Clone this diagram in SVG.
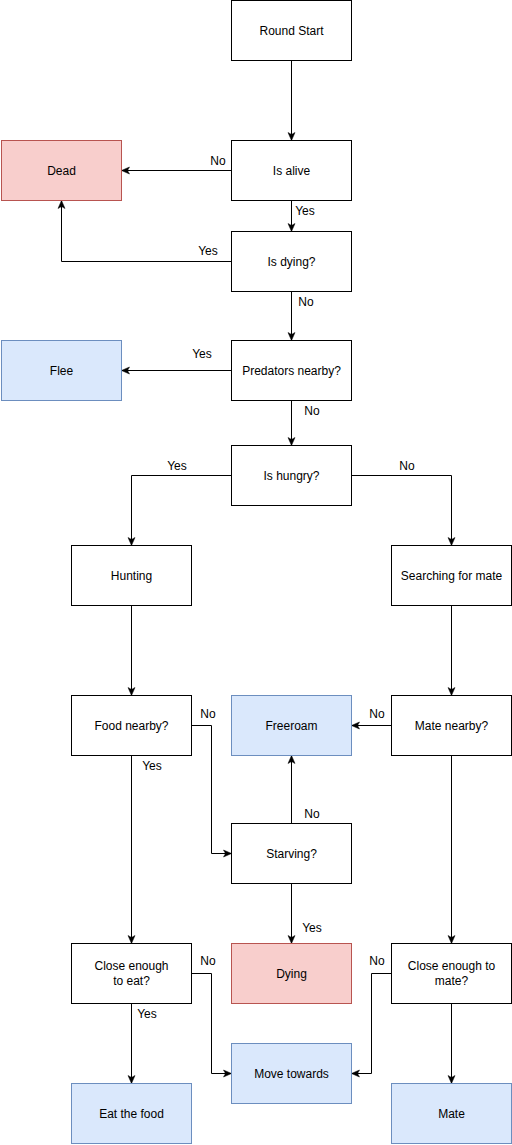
<svg xmlns="http://www.w3.org/2000/svg" width="512" height="1145" viewBox="0 0 512 1145">
<defs>
<style>
.n rect{fill:#ffffff;stroke:#000000;stroke-width:1}
.red rect{fill:#f8cecc;stroke:#b85450}
.blue rect{fill:#dae8fc;stroke:#6c8ebf}
text{font-family:"Liberation Sans",Arial,Helvetica,sans-serif;font-size:12px;fill:#000000}
.n text{text-anchor:middle}
.e path{fill:none;stroke:#000000;stroke-width:1;marker-end:url(#arr)}
.lbl text{text-anchor:middle}
</style>
<marker id="arr" markerUnits="userSpaceOnUse" markerWidth="10" markerHeight="10" refX="8" refY="4" orient="auto" viewBox="0 0 10 8" overflow="visible">
<path d="M0,0.5 L8,4 L0,7.5 L2,4 Z" fill="#000000" stroke="#000000" stroke-width="0.5"/>
</marker>
</defs>
<rect x="0" y="0" width="512" height="1145" fill="#ffffff"/>
<g id="connectors" class="e">
<path d="M291.5,60.5 V140.5"/>
<path d="M231.5,170.5 H121.5"/>
<path d="M291.5,200.5 V231.5"/>
<path d="M231.5,261.5 H61.5 V200.5"/>
<path d="M291.5,291.5 V340.5"/>
<path d="M231.5,370.5 H121.5"/>
<path d="M291.5,400.5 V445.5"/>
<path d="M231.5,475.5 H131.5 V545.5"/>
<path d="M351.5,475.5 H451.5 V545.5"/>
<path d="M131.5,605.5 V695.5"/>
<path d="M451.5,605.5 V695.5"/>
<path d="M191.5,725.5 H211.5 V853.5 H231.5"/>
<path d="M131.5,755.5 V943.5"/>
<path d="M391.5,725.5 H351.5"/>
<path d="M451.5,755.5 V943.5"/>
<path d="M291.5,823.5 V755.5"/>
<path d="M291.5,883.5 V943.5"/>
<path d="M191.5,973.5 H211.5 V1073.5 H231.5"/>
<path d="M131.5,1003.5 V1083.5"/>
<path d="M391.5,973.5 H371.5 V1073.5 H351.5"/>
<path d="M451.5,1003.5 V1083.5"/>
</g>
<g id="edge-labels" class="lbl">
<text x="218" y="165">No</text>
<text x="305" y="215">Yes</text>
<text x="208" y="255">Yes</text>
<text x="306" y="306">No</text>
<text x="202" y="358">Yes</text>
<text x="312" y="415">No</text>
<text x="177" y="470">Yes</text>
<text x="407" y="470">No</text>
<text x="208" y="718">No</text>
<text x="152" y="770">Yes</text>
<text x="377" y="718">No</text>
<text x="312" y="818">No</text>
<text x="312" y="932">Yes</text>
<text x="208" y="965">No</text>
<text x="147" y="1018">Yes</text>
<text x="377" y="965">No</text>
</g>
<g id="round-start" class="n"><rect x="231.5" y="0.5" width="120" height="60"/><text x="291.5" y="35">Round Start</text></g>
<g id="is-alive" class="n"><rect x="231.5" y="140.5" width="120" height="60"/><text x="291.5" y="175">Is alive</text></g>
<g id="dead" class="n red"><rect x="1.5" y="140.5" width="120" height="60"/><text x="61.5" y="175">Dead</text></g>
<g id="is-dying" class="n"><rect x="231.5" y="231.5" width="120" height="60"/><text x="291.5" y="266">Is dying?</text></g>
<g id="flee" class="n blue"><rect x="1.5" y="340.5" width="120" height="60"/><text x="61.5" y="375">Flee</text></g>
<g id="predators-nearby" class="n"><rect x="231.5" y="340.5" width="120" height="60"/><text x="291.5" y="375">Predators nearby?</text></g>
<g id="is-hungry" class="n"><rect x="231.5" y="445.5" width="120" height="60"/><text x="291.5" y="480">Is hungry?</text></g>
<g id="hunting" class="n"><rect x="71.5" y="545.5" width="120" height="60"/><text x="131.5" y="580">Hunting</text></g>
<g id="searching-for-mate" class="n"><rect x="391.5" y="545.5" width="120" height="60"/><text x="451.5" y="580">Searching for mate</text></g>
<g id="food-nearby" class="n"><rect x="71.5" y="695.5" width="120" height="60"/><text x="131.5" y="730">Food nearby?</text></g>
<g id="freeroam" class="n blue"><rect x="231.5" y="695.5" width="120" height="60"/><text x="291.5" y="730">Freeroam</text></g>
<g id="mate-nearby" class="n"><rect x="391.5" y="695.5" width="120" height="60"/><text x="451.5" y="730">Mate nearby?</text></g>
<g id="starving" class="n"><rect x="231.5" y="823.5" width="120" height="60"/><text x="291.5" y="858">Starving?</text></g>
<g id="close-enough-to-eat" class="n"><rect x="71.5" y="943.5" width="120" height="60"/><text x="131.5" y="970">Close enough</text><text x="131.5" y="985">to eat?</text></g>
<g id="dying" class="n red"><rect x="231.5" y="943.5" width="120" height="60"/><text x="291.5" y="978">Dying</text></g>
<g id="close-enough-to-mate" class="n"><rect x="391.5" y="943.5" width="120" height="60"/><text x="451.5" y="970">Close enough to</text><text x="451.5" y="985">mate?</text></g>
<g id="move-towards" class="n blue"><rect x="231.5" y="1043.5" width="120" height="60"/><text x="291.5" y="1078">Move towards</text></g>
<g id="eat-the-food" class="n blue"><rect x="71.5" y="1083.5" width="120" height="60"/><text x="131.5" y="1118">Eat the food</text></g>
<g id="mate" class="n blue"><rect x="391.5" y="1083.5" width="120" height="60"/><text x="451.5" y="1118">Mate</text></g>
</svg>
